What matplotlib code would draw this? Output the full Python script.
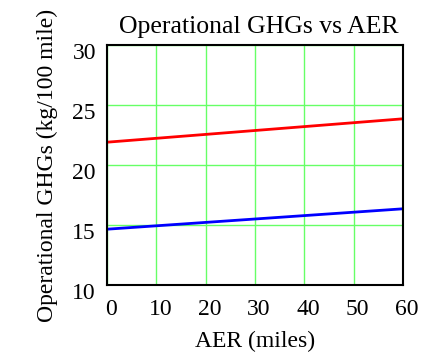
import numpy as np
import matplotlib
matplotlib.use("Agg")
import matplotlib.pyplot as plt
import matplotlib.transforms as mtransforms

plt.rcParams['font.family'] = ['Liberation Serif', 'DejaVu Serif']

aer = [0, 60]
ghg_red = [21.9, 23.85]
ghg_blue = [14.65, 16.35]

fig = plt.figure(figsize=(4.24, 3.56), dpi=100)
ax = fig.add_axes([107 / 424, 1 - 285 / 356, 296 / 424, 240 / 356])

ax.plot(aer, ghg_red, color='red', lw=2)
ax.plot(aer, ghg_blue, color='blue', lw=2)

ax.set_xlim(0, 60)
ax.set_ylim(10, 30)
ax.set_xticks(np.arange(0, 61, 10))
ax.set_yticks(np.arange(10, 31, 5))
ax.grid(True, color='#66ff66', lw=1)
ax.set_axisbelow(True)
ax.tick_params(length=0, labelsize=17)
ax.tick_params(axis='y', pad=8)
ax.tick_params(axis='x', pad=10)
for s in ax.spines.values():
    s.set_linewidth(1.5)

# tick labels in the original sit a little low / right
off_y = mtransforms.ScaledTranslation(0, -6 / 100, fig.dpi_scale_trans)
off_x = mtransforms.ScaledTranslation(4 / 100, 0, fig.dpi_scale_trans)
for lbl in ax.get_yticklabels():
    lbl.set_transform(lbl.get_transform() + off_y)
for lbl in ax.get_xticklabels():
    lbl.set_transform(lbl.get_transform() + off_x)

t = ax.set_title('Operational GHGs vs AER', fontsize=18.5, pad=9)
t.set_transform(t.get_transform() + off_x)
ax.set_xlabel('AER (miles)', fontsize=17, labelpad=8)
ax.set_ylabel('Operational GHGs (kg/100 mile)', fontsize=17, labelpad=10)

fig.savefig('out.png')
